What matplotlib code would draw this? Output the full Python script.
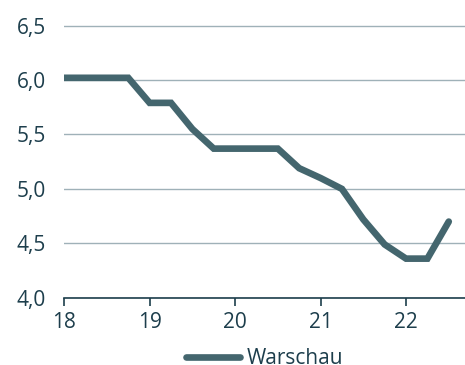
import numpy as np
import matplotlib
matplotlib.use("Agg")
import matplotlib.pyplot as plt
from matplotlib.ticker import FuncFormatter

plt.rcParams['font.family'] = ['Open Sans', 'DejaVu Sans']

# quarterly values, Warschau
quarters = [18.0, 18.25, 18.5, 18.75, 19.0, 19.25, 19.5, 19.75, 20.0, 20.25,
            20.5, 20.75, 21.0, 21.25, 21.5, 21.75, 22.0, 22.25, 22.5]
warschau = [6.02, 6.02, 6.02, 6.02, 5.79, 5.79, 5.55, 5.37, 5.37, 5.37,
            5.37, 5.19, 5.10, 5.00, 4.72, 4.49, 4.36, 4.36, 4.70]
x_ticks = [18, 19, 20, 21, 22]
y_ticks = [4.0, 4.5, 5.0, 5.5, 6.0, 6.5]

line_col = '#44666e'
text_col = '#1d3e4c'
grid_col = '#9fb1b8'

fig = plt.figure(figsize=(4.65, 3.65), dpi=100)
ax = fig.add_axes([0.138, 0.184, 0.862, 0.752])

ax.plot(quarters, warschau, color=line_col, lw=4.8, solid_capstyle='round',
        solid_joinstyle='miter', label='Warschau', zorder=3)

ax.set_xlim(18, 22.69)
ax.set_ylim(4.0, 6.52)
ax.set_xticks(x_ticks)
ax.set_yticks(y_ticks)
ax.yaxis.set_major_formatter(FuncFormatter(lambda v, p: f'{v:.1f}'.replace('.', ',')))

ax.grid(axis='y', color=grid_col, lw=1.0, zorder=0)
for s in ['top', 'right', 'left']:
    ax.spines[s].set_visible(False)
ax.spines['bottom'].set_color(text_col)
ax.spines['bottom'].set_linewidth(1.2)

ax.tick_params(axis='y', length=0, pad=13, labelsize=15, labelcolor=text_col)
ax.tick_params(axis='x', length=6, width=1.2, color=text_col, pad=4,
               labelsize=15, labelcolor=text_col)

leg = ax.legend(loc='upper center', bbox_to_anchor=(0.5, -0.115), frameon=False,
                fontsize=15, handlelength=2.6, handletextpad=0.3)
for t in leg.get_texts():
    t.set_color(text_col)

fig.savefig('out.png', dpi=100, facecolor='white')
